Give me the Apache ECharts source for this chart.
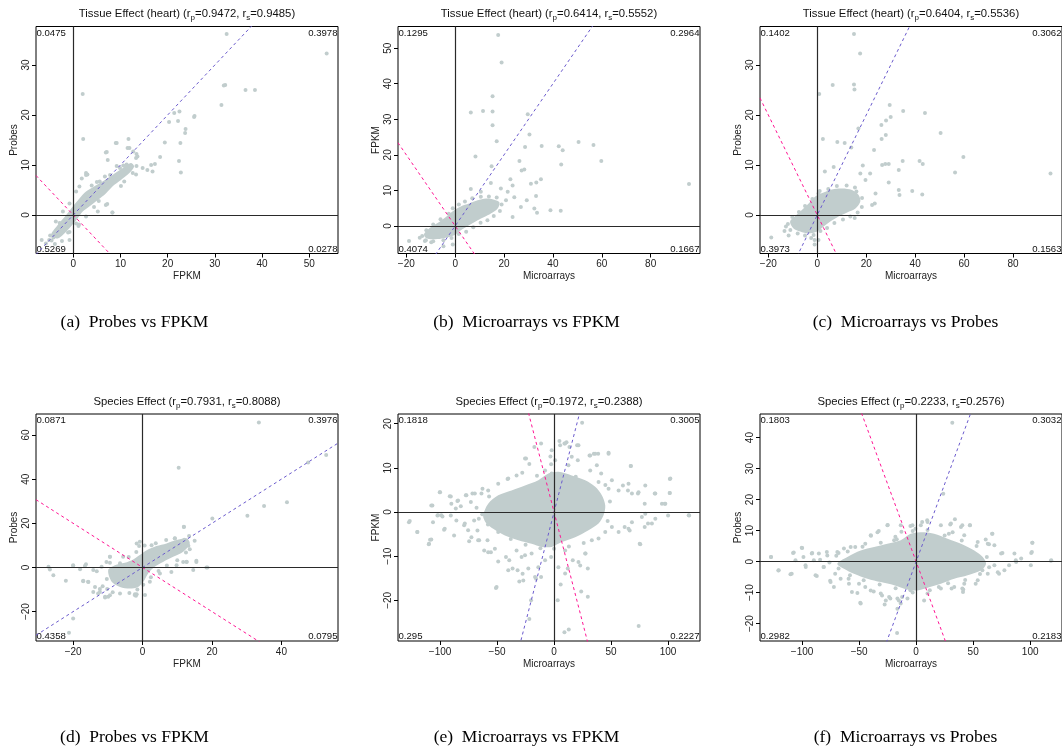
<!DOCTYPE html>
<html>
<head>
<meta charset="utf-8">
<script src="https://cdn.jsdelivr.net/npm/echarts@6/dist/echarts.min.js"></script>
<style>
  html, body { margin: 0; padding: 0; background: #fff; }
  #chart { width: 1062px; height: 756px; }
</style>
</head>
<body>
<div id="chart"></div>
<script>
// ---- data ----
var effects = ['Tissue Effect (heart)', 'Tissue Effect (heart)', 'Tissue Effect (heart)',
               'Species Effect', 'Species Effect', 'Species Effect']
var pearson = ['0.9472', '0.6414', '0.6404', '0.7931', '0.1972', '0.2233']
var spearman = ['0.9485', '0.5552', '0.5536', '0.8088', '0.2388', '0.2576']
var xNames = ['FPKM', 'Microarrays', 'Microarrays', 'FPKM', 'Microarrays', 'Microarrays']
var yNames = ['Probes', 'FPKM', 'Probes', 'Probes', 'FPKM', 'Probes']
var captions = ['(a)\u2002Probes vs FPKM', '(b)\u2002Microarrays vs FPKM', '(c)\u2002Microarrays vs Probes',
                '(d)\u2002Probes vs FPKM', '(e)\u2002Microarrays vs FPKM', '(f)\u2002Microarrays vs Probes']
// quadrant fractions: top-left, top-right, bottom-left, bottom-right
var quadrants = [
  ['0.0475', '0.3978', '0.5269', '0.0278'],
  ['0.1295', '0.2964', '0.4074', '0.1667'],
  ['0.1402', '0.3062', '0.3973', '0.1563'],
  ['0.0871', '0.3976', '0.4358', '0.0795'],
  ['0.1818', '0.3005', '0.295', '0.2227'],
  ['0.1803', '0.3032', '0.2982', '0.2183']
]
var xRange = [[-7.9, 56.1], [-23.4, 100.2], [-23.4, 100], [-30.7, 56.3], [-136.9, 128], [-136.9, 127.9]]
var yRange = [[-7.7, 37.7], [-7.75, 56.1], [-7.7, 37.7], [-33.3, 69.5], [-29.2, 22.2], [-25.6, 47.6]]
var xTicks = [[0, 10, 20, 30, 40, 50], [-20, 0, 20, 40, 60, 80], [-20, 0, 20, 40, 60, 80],
              [-20, 0, 20, 40], [-100, -50, 0, 50, 100], [-100, -50, 0, 50, 100]]
var yTicks = [[0, 10, 20, 30], [0, 10, 20, 30, 40, 50], [0, 10, 20, 30],
              [-20, 0, 20, 40, 60], [-20, -10, 0, 10, 20], [-20, -10, 0, 10, 20, 30, 40]]
var fitSlopes = [1, -1]

// outline of the dense core of each cloud
var cloudA = [[-4.7,-4.0],[-3.3,-2.0],[-1.5,0],[-0.1,1.7],[1.3,3.3],[2.7,4.7],[4.4,5.7],[6.2,6.7],[8.3,8.0],[10.5,9.4],[12.2,10.4],
  [12.9,9.7],[11.9,8.4],[10.1,7.0],[8.3,5.7],[6.9,4.3],[5.2,3.0],[3.4,1.7],[2.0,0.7],[0.9,-0.7],[-0.5,-2.3],[-1.9,-3.7],[-3.3,-4.7]]
var cloudB = [[-12.7,-2.2],[-10.7,-0.7],[-7.2,0.8],[-3.8,2.5],[-0.4,4.4],[2.3,5.5],[5.7,6.3],[9.2,7.2],[12.6,7.7],[16.0,7.4],[18.1,6.7],
  [17.4,4.9],[14.6,3.5],[11.9,2.5],[9.2,1.6],[5.7,0.2],[2.3,-1.2],[-0.4,-2.6],[-3.8,-3.3],[-7.2,-3.7],[-10.7,-3.7],[-12.4,-3.1]]
var cloudC = [[-11.1,-1.3],[-9.0,-0.2],[-6.3,1.0],[-3.5,2.3],[-0.8,3.7],[2.6,4.5],[6.0,5.1],[10.1,5.3],[14.2,5.0],[16.9,4.0],[17.6,2.7],
  [15.6,1.3],[12.2,0.5],[8.7,-0.3],[5.3,-1.3],[2.6,-2.3],[-0.1,-3.3],[-3.5,-3.7],[-7.0,-3.3],[-9.7,-2.7]]
var cloudD = [[-9.9,-1.2],[-8.0,1.0],[-5.1,2.1],[-2.7,3.6],[-0.8,5.6],[1.2,7.8],[4.0,9.7],[6.9,10.9],[9.8,12.4],[12.7,13.2],[13.6,10.9],
  [11.7,7.1],[8.8,4.8],[5.9,2.5],[3.5,0.3],[1.6,-2.7],[0.2,-6.5],[-1.3,-8.8],[-3.7,-9.5],[-6.5,-8.8],[-8.9,-6.5]]
var cloudE = [[-62.2,-0.75],[-57.8,1.9],[-49.0,3.8],[-37.3,4.9],[-25.5,6.0],[-13.8,7.2],[-5.0,8.7],[3.8,9.1],[15.5,8.3],[27.3,7.2],
  [36.1,5.7],[41.9,3.8],[44.9,1.5],[43.4,-0.75],[39.0,-2.6],[30.2,-4.1],[18.5,-5.7],[6.7,-6.8],[-2.1,-7.9],[-10.9,-7.9],[-19.7,-7.2],
  [-31.4,-6.4],[-43.1,-5.3],[-53.4,-3.8],[-60.2,-2.3]]
var cloudF = [[-69.1,-0.65],[-60.3,1.5],[-48.6,3.6],[-36.9,4.7],[-25.2,5.8],[-13.5,6.9],[-4.7,9.0],[7.0,9.5],[15.8,9.0],[27.6,7.4],
  [39.3,5.8],[51.0,3.6],[58.4,1.5],[61.3,-0.65],[56.9,-2.8],[45.2,-4.4],[33.4,-5.5],[21.7,-7.1],[10.0,-8.4],[1.2,-9.3],[-7.6,-9.0],
  [-19.3,-7.6],[-31.0,-6.6],[-42.7,-5.5],[-54.5,-3.9],[-63.3,-2.3]]

// individual points around and away from the core
var pointsA = [[32.5,36.2],[53.7,32.3],[2.0,24.2],[32.2,26.0],[31.9,25.9],[36.5,25.0],[38.5,25.0],[31.4,22.0],[25.7,19.8],[25.6,19.6],
  [22.5,20.7],[21.4,20.4],[20.3,18.6],[22.2,18.8],[23.8,17.2],[23.7,16.4],[2.1,15.2],[11.7,15.2],[9.2,14.4],[19.4,14.5],[22.7,14.4],
  [11.9,13.4],[7.1,12.6],[12.7,12.7],[13.4,12.2],[13.6,11.7],[18.4,11.6],[22.4,10.8],[17.3,10.2],[15.7,9.0],[16.8,8.7],[22.8,8.5],
  [3.0,8.1],[1.8,7.3],[13.3,8.1],[13.4,9.8],[11.3,10.1],[7.2,2.2],[8.3,0.5],[1.1,-2.2],[-1.1,-3.5],[-4.2,-4.5],[-4.6,-5.1],[-6.7,-5.0]]
var haloA = [[2.7,8.0],[7.3,11.0],[9.0,14.4],[6.9,12.5],[11.5,13.4],[13.3,11.4],[16.5,10.0],[14.7,9.4],[12.6,8.4],[10.8,6.7],[10.1,5.8],
  [8.3,0.5],[6.9,2.0],[2.7,8.4],[1.3,5.7],[0.6,4.7],[-0.8,2.3],[-2.2,0.7],[-3.7,-1.3],[-0.8,-5.0],[0.6,-1.7],[2.7,-0.3],[5.2,0.7],
  [-5.1,-5.0],[-5.8,-5.7],[-4.9,-4.1],[-2.9,-1.6],[-2.4,-5.2],[-3.9,-5.8],[-0.8,-3.4],[1.2,-1.9],[4.4,1.6],[5.4,2.8],[7.8,8.0],
  [9.9,9.4],[10.6,9.9],[5.6,6.7],[6.7,7.7],[9.2,9.8],[3.9,5.9],[5.0,6.6]]
var pointsB = [[17.6,53.7],[19.0,46.0],[15.3,36.5],[6.4,31.9],[11.4,32.3],[15.3,32.2],[29.7,31.4],[30.4,25.7],[15.3,28.3],[17.0,23.8],
  [8.3,19.5],[28.6,22.2],[35.4,22.5],[42.4,22.4],[44.0,21.3],[50.5,23.6],[56.6,22.8],[59.8,18.3],[43.4,17.3],[95.7,11.8],[26.3,18.3],
  [14.9,16.8],[22.6,13.1],[23.5,11.4],[28.3,15.9],[27.2,15.6],[31.0,11.9],[33.2,12.2],[35.1,13.1],[33.1,8.4],[32.4,4.9],[33.5,3.7],
  [39.0,4.4],[43.2,4.3],[29.3,7.2],[21.5,9.6],[24.2,8.1],[23.5,2.5],[-12.4,-4.2],[-18.9,-4.2],[-4.8,-5.7],[-1.0,-5.2],[6.4,10.4],
  [10.5,9.6],[14.6,12.1],[18.7,10.5],[20.8,7.2],[26.9,5.3]]
var haloB = [[-13.5,-2.8],[-11.8,-1.2],[-9.0,0.4],[-6.0,1.9],[-2.6,3.4],[-1.0,5.0],[1.5,6.0],[4.0,6.9],[7.0,7.8],[10.5,8.2],[13.8,8.3],
  [17.0,8.0],[19.0,6.0],[18.3,4.2],[15.8,2.8],[13.2,1.6],[10.4,0.9],[7.4,-0.4],[4.5,-1.6],[1.5,-2.3],[-1.5,-3.4],[-4.8,-4.0],[-9.0,-4.3],
  [-12.0,-4.0],[-14.5,-3.3],[-9.8,-4.6]]
var pointsC = [[15.0,36.2],[17.5,32.3],[0.8,24.2],[6.3,26.0],[15.0,26.1],[15.2,25.1],[29.6,22.0],[35.1,20.8],[44.0,20.4],[30.0,19.6],
  [28.1,18.9],[26.2,18.0],[16.8,17.3],[50.4,16.4],[28.0,16.0],[26.3,15.2],[2.3,15.2],[8.2,14.6],[11.2,14.4],[13.9,13.5],[23.2,13.0],
  [59.7,11.6],[41.8,10.8],[43.1,10.2],[34.9,10.8],[95.3,8.3],[56.3,8.5],[33.3,9.0],[18.6,9.9],[26.5,10.0],[27.8,10.2],[29.2,10.2],
  [6.7,9.6],[3.1,8.7],[38.8,4.8],[42.9,4.1],[33.3,5.0],[33.6,4.0],[23.8,4.3],[23.5,2.3],[22.4,2.0],[29.2,6.5],[19.7,7.0],[-18.8,-4.5],
  [-13.4,-3.2],[-11.7,-4.1],[-1.1,-5.0],[-1.1,-5.9],[15.3,-0.6],[17.6,8.3],[21.6,8.3],[15.4,5.5]]
var haloC = [[-12.0,-1.8],[-10.2,-0.4],[-7.5,0.6],[-5.0,1.8],[-2.0,3.2],[0.5,4.3],[1.0,4.8],[4.5,5.2],[8.0,5.8],[12.0,5.9],[16.0,4.7],
  [18.3,3.4],[18.2,1.6],[16.5,0.5],[13.5,-0.3],[10.5,-0.9],[7.0,-1.6],[4.0,-2.6],[1.3,-3.2],[-1.5,-4.0],[-5.0,-4.1],[-8.0,-3.7],
  [-11.0,-3.0],[-12.8,-2.3],[-2.5,-4.6],[0.5,-5.0]]
var pointsD = [[33.5,65.7],[10.4,45.2],[52.9,50.9],[47.7,47.5],[41.6,29.5],[35.0,27.8],[30.2,23.4],[20.1,22.2],[11.9,18.3],[18.4,0.0],
  [15.5,3.0],[12.7,2.6],[-27.1,0.3],[-26.7,-0.9],[-25.7,-3.5],[-22.1,-6.0],[-20.0,0.8],[-18.0,-0.8],[-16.3,1.5],[-17.1,-6.0],
  [-15.6,-6.6],[-13.2,-1.7],[-12.3,-9.7],[-12.8,-11.8],[-10.8,-13.6],[-9.9,-13.3],[-20.0,-23.1],[-21.2,-29.6],[-9.4,4.8],[-1.7,10.9],
  [-9.4,2.1],[0.7,-12.5],[-2.2,-12.1],[-1.9,-12.8],[7.4,7.9],[9.3,13.1],[10.7,9.4],[13.6,8.3]]
var haloD = [[-20.0,1.0],[-16.6,0.7],[-14.2,-1.2],[-17.1,-6.2],[-15.7,-6.5],[-13.7,-8.8],[-14.2,-11.1],[-12.3,-11.1],[-10.8,-13.3],
  [-9.4,-12.6],[-11.8,0.3],[-10.4,2.5],[-9.4,4.8],[-5.6,4.8],[-2.2,-12.6],[-1.7,-12.1],[-0.8,11.6],[-1.0,9.7],[2.6,10.1],[9.3,13.2],
  [11.9,18.4],[13.4,14.2],[15.0,12.1],[9.8,1.0],[11.7,2.5],[12.7,2.5],[14.6,-1.2],[15.5,2.5],[18.7,0.0],[8.3,-2.0],[5.0,-2.7],
  [2.1,-6.5],[-11.5,-8.5],[-10.3,-5.2],[-8.8,-1.5],[-6.5,1.9],[-4.0,4.7],[-1.8,7.0],[0.6,10.0],[3.8,11.0],[6.8,12.4],[12.0,12.5],
  [13.2,9.8],[12.5,6.8],[10.0,3.3],[7.0,0.9],[4.6,-1.6],[2.4,-4.4],[0.2,-7.8],[-1.5,-10.0],[-3.8,-11.6],[-6.5,-11.8],[-8.6,-11.2],
  [-10.2,-9.8]]
var pointsE = [[-127.3,-2.3],[-119.9,-4.5],[-109.7,-7.2],[-108.8,-6.3],[-106.7,1.5],[-100,4.5],[-102.3,-0.8],[-97.9,-1.0],[-96.5,-4.0],
  [-90.6,-0.8],[-90.6,3.5],[-87.7,-5.3],[-86.2,0.8],[-84.8,2.5],[-81.8,1.3],[-78.9,-3.0],[-77.4,3.8],[-74.5,-6.6],[-73.0,2.3],
  [-71.6,4.2],[-70.1,-1.9],[-67.2,-4.2],[-65.7,-6.4],[-62.8,5.3],[-61.3,-8.7],[-58.4,-6.4],[-55.4,-9.1],[-49.0,-11.2],[-50.4,-17.0],
  [-40.8,7.5],[-42.2,-10.2],[-39.3,-10.9],[-36.4,-12.8],[-32.0,-13.2],[-27.6,-14.0],[-30.5,-15.7],[-24.6,12.1],[-21.7,10.9],
  [-17.3,14.7],[-11.4,15.5],[-3.2,12.6],[-2.6,10.8],[-2.6,-10.2],[-11.4,-14.7],[-15.8,-15.1],[-20.2,-20.0],[-21.7,-24.2],
  [3.2,-20.0],[9.1,-27.2],[12.9,-26.6],[23.8,-18.0],[21.4,-11.3],[27.6,-9.4],[29.6,-12.8],[12.0,-12.8],[9.1,15.5],
  [10.9,15.8],[13.5,14.7],[4.7,16.1],[24.6,20.2],[20.2,15.1],[31.1,12.8],[34.9,13.2],[38.7,13.2],[47.8,13.4],[41.3,8.7],
  [50.7,7.2],[60.4,6.0],[67.2,10.4],[64.8,4.9],[73.6,4.2],[79.5,1.9],[88.3,4.2],[97.1,1.9],[101.5,7.5],[101.5,4.3],[118.5,-0.8],
  [100,-0.8],[82.4,-2.6],[79.5,-3.4],[75.1,-7.2],[66.3,-4.2],[61.9,-3.4],[74.2,-25.8],[29.6,-19.2],[16.4,-10.9],[20.8,11.7]]
var haloE = [[-25.5,12.1],[-27.9,8.9],[-32.9,8.3],[-40.2,7.6],[-49.0,6.4],[-57.8,4.9],[-63.7,4.2],[-69.5,4.2],[-76.9,3.8],[-84.2,2.6],
  [-90.1,1.9],[-100.3,4.5],[-91.5,3.6],[-107.7,1.5],[-101.8,-0.75],[-98.9,-0.75],[-126.6,-2.0],[-120,-4.5],[-106.2,-2.3],[-95.9,-3.8],
  [-107.7,-6.2],[-109.9,-7.3],[-85.7,-1.9],[-78.3,-2.6],[-75.4,-4.1],[-72.5,-5.7],[-66.6,-6.4],[-57.8,-9.1],[-51.9,-8.3],[-40.2,-13.2],
  [-32.9,-8.7],[-28.5,-10.2],[-25.5,-9.8],[-19.7,-9.4],[-22.6,-12.8],[-13.8,-12.5],[-16.7,-14.7],[-27.0,-15.5],[-7.9,-10.9],
  [-51.0,-17.2],[-2.1,14.0],[5.3,15.1],[9.7,15.5],[21.4,15.1],[31.7,12.8],[36.1,13.2],[47.8,13.2],[37.5,10.6],[31.7,9.4],[39.0,6.8],
  [47.8,5.3],[56.6,4.9],[65.3,6.4],[68.3,4.2],[74.1,4.5],[80.0,6.0],[88.8,4.2],[94.6,1.9],[97.6,1.9],[101.4,4.3],[102,7.6],[80,-0.4],
  [85.8,-2.6],[88.8,-1.5],[77.0,-1.1],[68.3,-2.3],[65.3,-3.8],[56.6,-4.5],[50.7,-3.4],[44.9,-4.5],[39.0,-6.0],[33.1,-6.4],[27.3,-9.4],
  [22.9,-12.1],[9.7,-8.7],[3.8,-12.5],[9.7,-13.9],[5.8,-16.4],[67.4,10.4],[75.6,-7.3],[118.1,-0.75],[12.6,10.6],[15.5,12.5],
  [0.9,11.7],[-2.1,8.7],[-7.9,9.4],[-63,-0.5],[-57,3.5],[-15,8.2],[19,8.0],[45,6.1],[49,2.4],[47,-2.0],[26,-7.0],[13,-7.8],
  [0,-8.3],[-12,-8.2],[-25,-7.4],[-38,-6.1],[-49,-4.5],[-58,-2.8],[-66,-1.5],[-68,1.0]]
var pointsF = [[31.7,44.8],[23.8,21.9],[34.0,13.7],[29.9,12.0],[47.2,11.7],[9.7,13.3],[-24.9,11.8],[-5.0,11.5],[-0.6,10.6],[-12.9,9.6],
  [-32.8,9.9],[-39.6,8.3],[66.9,9.0],[102,6.1],[101.5,3.1],[118.2,0.3],[100.6,-1.2],[87.4,0.4],[75.7,2.8],[63.9,5.6],[61.0,7.1],
  [81.5,-1.2],[72.7,-3.9],[58.1,-2.8],[-127.3,1.5],[-120.8,-2.9],[-109.1,-3.9],[-107.9,2.8],[-100.3,4.5],[-98.8,1.5],[-96.8,-1.7],
  [-91.5,2.6],[-87.1,-4.6],[-84.2,0.6],[-81.2,-1.7],[-78.3,3.1],[-75.4,-6.2],[-71.0,-3.9],[-68.0,2.8],[-59.2,-5.5],[-56.3,-9.8],
  [-49.0,-13.3],[-44.6,-8.2],[-37.2,-9.6],[-29.9,-10.9],[-27.6,-13.8],[-22.6,-11.9],[-15.2,-12.5],[-12.3,-11.4],[-5.0,-9.2],
  [-16.7,-23.0],[31.1,-8.7],[40.5,-8.7],[41.1,-9.8],[19.9,-8.2],[52.2,-7.1],[40.5,11.7],[5.3,12.8],[28.7,9.0],[-18.2,8.0],
  [-44.6,5.8],[-53.4,4.7]]
var haloF = [[-127.2,1.5],[-120.5,-2.8],[-110.2,-4.1],[-107.3,2.9],[-105.8,0.4],[-99.9,4.4],[-97.0,-1.2],[-91.1,2.8],[-89.7,0.4],
  [-88.2,-4.4],[-85.3,2.6],[-80.9,-1.7],[-75.0,-6.6],[-72.1,-8.2],[-77.9,2.0],[-69.1,3.1],[-66.2,-5.5],[-63.3,4.2],[-57.4,4.7],
  [-58.9,-7.1],[-50.1,-7.1],[-48.6,-13.5],[-51.5,-10.1],[-39.8,8.5],[-39.8,-9.3],[-33.9,9.5],[-31.0,-10.3],[-25.2,11.7],[-23.7,-11.4],
  [-19.3,6.9],[-16.4,-11.9],[-26.6,-12.5],[-13.5,11.7],[-7.6,-11.9],[-3.2,11.7],[4.1,11.7],[10.0,12.8],[21.7,11.7],[30.5,12.3],
  [39.3,11.2],[47.2,11.7],[32.0,9.5],[42.2,8.5],[54.0,6.3],[62.8,5.8],[66.6,9.0],[68.6,5.3],[74.5,2.6],[86.2,2.6],[92.1,1.0],
  [100.9,2.8],[101.8,6.1],[118.5,0.4],[87.7,-0.1],[68.6,-1.2],[71.6,-3.4],[77.4,-2.8],[62.8,-3.9],[54.0,-6.0],[42.2,-7.1],[41.3,-9.0],
  [33.4,-8.2],[21.7,-8.7],[10.0,-10.3],[7.0,-12.5],[-13.5,-13.5],[-16.4,-15.2],[-76,-0.3],[-70,1.9],[-60,3.3],[-47,4.8],[-31,6.1],
  [-17,7.2],[-3,9.9],[10,10.2],[25,8.4],[40,6.8],[53,5.0],[62,1.5],[64,-1.8],[56,-4.0],[43,-5.9],[28,-7.0],[12,-9.2],[-3,-10.0],
  [-18,-8.6],[-32,-7.4],[-46,-6.0],[-58,-4.4],[-68,-2.2]]

var clouds = [cloudA, cloudB, cloudC, cloudD, cloudE, cloudF]
var points = [pointsA.concat(haloA), pointsB.concat(haloB), pointsC.concat(haloC),
              pointsD.concat(haloD), pointsE.concat(haloE), pointsF.concat(haloF)]

// ---- layout & style ----
var sans = '"Liberation Sans", Arial, sans-serif'
var serif = '"Liberation Serif", "Times New Roman", serif'
var pointColor = '#C1CDCD'
var lineColors = ['#6A5ACD', '#FF1493']
var colLeft = [36, 398, 760]
var rowTop = [26.5, 414]
var boxW = 302
var boxH = 227
var titleY = [13.5, 401.5]
var captionX = [134.5, 526.5, 905.5]
var captionY = [322, 737]

function minus(v) {
  return String(v).replace('-', '\u2212')
}

function cloudRenderer(outline) {
  return function (params, api) {
    var pts = outline.map(function (p) { return api.coord(p) })
    return { type: 'polygon', shape: { points: pts, smooth: 0.3 }, style: { fill: pointColor } }
  }
}

function buildOption() {
  var grids = [], xAxes = [], yAxes = [], series = [], graphics = []

  for (var i = 0; i < 6; i++) {
    var col = i % 3
    var row = Math.floor(i / 3)
    var boxLeft = colLeft[col]
    var boxTop = rowTop[row]

    grids.push({ left: boxLeft, top: boxTop, width: boxW, height: boxH, show: true, borderColor: '#000', borderWidth: 1 })

    xAxes.push({
      gridIndex: i, type: 'value', min: xRange[i][0], max: xRange[i][1],
      name: xNames[i], nameLocation: 'middle', nameGap: 18,
      nameTextStyle: { fontSize: 10, color: '#222', fontFamily: sans },
      axisLine: { show: false, onZero: false }, splitLine: { show: false },
      axisTick: { show: true, length: 4, customValues: xTicks[i], lineStyle: { color: '#000' } },
      axisLabel: { customValues: xTicks[i], fontSize: 10, margin: 6, color: '#222', fontFamily: sans, formatter: minus }
    })
    yAxes.push({
      gridIndex: i, type: 'value', min: yRange[i][0], max: yRange[i][1],
      name: yNames[i], nameLocation: 'middle', nameGap: 17,
      nameTextStyle: { fontSize: 10, color: '#222', fontFamily: sans },
      axisLine: { show: false, onZero: false }, splitLine: { show: false },
      axisTick: { show: true, length: 4, customValues: yTicks[i], lineStyle: { color: '#000' } },
      axisLabel: { customValues: yTicks[i], fontSize: 10, margin: 5, rotate: 90, color: '#222', fontFamily: sans, formatter: minus }
    })

    series.push({
      type: 'custom', xAxisIndex: i, yAxisIndex: i, silent: true, z: 1,
      data: [[0, 0]], renderItem: cloudRenderer(clouds[i])
    })
    series.push({
      type: 'scatter', xAxisIndex: i, yAxisIndex: i, silent: true, z: 2,
      symbolSize: 4, itemStyle: { color: pointColor, opacity: 1 },
      data: points[i],
      markLine: {
        silent: true, symbol: 'none', label: { show: false },
        lineStyle: { color: '#2a2a2a', width: 1.2, type: 'solid' },
        data: [{ xAxis: 0 }, { yAxis: 0 }]
      }
    })
    for (var k = 0; k < fitSlopes.length; k++) {
      var s = fitSlopes[k]
      series.push({
        type: 'line', xAxisIndex: i, yAxisIndex: i, silent: true, z: 4, clip: true,
        symbol: 'none', lineStyle: { color: lineColors[k], width: 1, type: [3, 3] },
        data: [[xRange[i][0], s * xRange[i][0]], [xRange[i][1], s * xRange[i][1]]]
      })
    }

    // title with subscripts
    graphics.push({
      type: 'text', x: boxLeft + boxW / 2, y: titleY[row],
      style: {
        text: '{n|' + effects[i] + ' (r}{s|p}{n|=' + pearson[i] + ', r}{s|s}{n|=' + spearman[i] + ')}',
        align: 'center', verticalAlign: 'middle', fill: '#111',
        rich: {
          n: { fontSize: 11.3, fontFamily: sans, lineHeight: 17, verticalAlign: 'middle', fill: '#111' },
          s: { fontSize: 8, fontFamily: sans, lineHeight: 17, verticalAlign: 'bottom', fill: '#111' }
        }
      }
    })

    // quadrant fractions in the corners
    var q = quadrants[i]
    var corners = [
      [q[0], boxLeft + 0.5, boxTop + 1.5, 'left', 'top'],
      [q[1], boxLeft + boxW - 0.5, boxTop + 1.5, 'right', 'top'],
      [q[2], boxLeft + 0.5, boxTop + boxH + 0.5, 'left', 'bottom'],
      [q[3], boxLeft + boxW - 0.5, boxTop + boxH + 0.5, 'right', 'bottom']
    ]
    corners.forEach(function (c) {
      graphics.push({
        type: 'text', x: c[1], y: c[2],
        style: { text: c[0], align: c[3], verticalAlign: c[4], fontSize: 9.6, fontFamily: sans, fill: '#111' }
      })
    })

    // sub-figure caption
    graphics.push({
      type: 'text', x: captionX[col], y: captionY[row],
      style: { text: captions[i], align: 'center', verticalAlign: 'middle', fontSize: 17.5, fontFamily: serif, fill: '#000' }
    })
  }

  return {
    animation: false,
    backgroundColor: '#fff',
    grid: grids,
    xAxis: xAxes,
    yAxis: yAxes,
    series: series,
    graphic: graphics
  }
}

var chart = echarts.init(document.getElementById('chart'))
chart.setOption(buildOption())
</script>
</body>
</html>
